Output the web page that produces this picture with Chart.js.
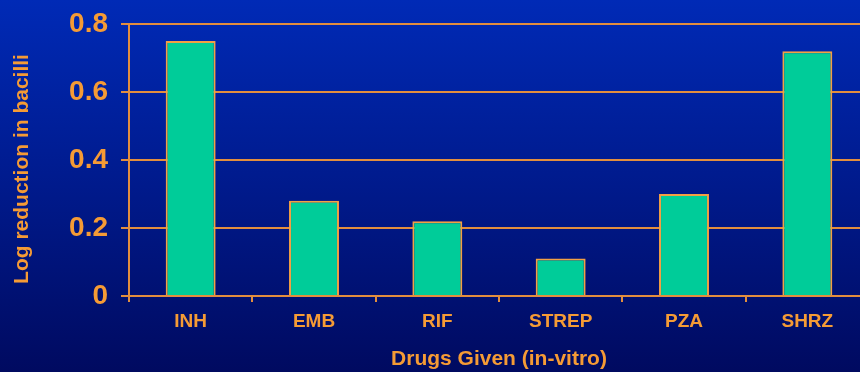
<!DOCTYPE html>
<html>
<head>
<meta charset="utf-8">
<script src="https://cdn.jsdelivr.net/npm/chart.js@4/dist/chart.umd.min.js"></script>
<style>
  html, body { margin: 0; padding: 0; overflow: hidden; width: 860px; height: 372px; }
  body { background: linear-gradient(to bottom, rgb(0,42,182) 0%, rgb(0,26,140) 50%, rgb(0,10,96) 100%); }
  #wrap { position: absolute; left: 0; top: 0; width: 869px; height: 372px; }
</style>
</head>
<body>
<div id="wrap"><canvas id="c" width="869" height="372"></canvas></div>
<script>
// Drugs tested and the log reduction in bacilli for each
const drugs = ['INH', 'EMB', 'RIF', 'STREP', 'PZA', 'SHRZ'];
const logReduction = [0.75, 0.28, 0.22, 0.11, 0.30, 0.72];
const yTicks = [0, 0.2, 0.4, 0.6, 0.8];
const yTitle = 'Log reduction in bacilli';

const ORANGE = '#F59B35';
const LINE = 'rgb(226,142,62)';
const FONT = "'Liberation Sans', Arial, sans-serif";

// Vertical axis title, drawn a little below the axis midpoint
const yTitlePlugin = {
  id: 'yTitle',
  afterDraw(chart) {
    const { ctx, chartArea } = chart;
    ctx.save();
    ctx.translate(22, (chartArea.top + chartArea.bottom) / 2 + 9);
    ctx.rotate(-Math.PI / 2);
    ctx.font = 'bold 21px ' + FONT;
    ctx.fillStyle = ORANGE;
    ctx.textAlign = 'center';
    ctx.textBaseline = 'middle';
    ctx.fillText(yTitle, 0, 0);
    ctx.restore();
  }
};

new Chart(document.getElementById('c'), {
  type: 'bar',
  data: {
    labels: drugs,
    datasets: [{
      data: logReduction,
      backgroundColor: '#00CC99',
      borderColor: '#F2A044',
      borderWidth: 2,
      categoryPercentage: 1,
      barPercentage: 0.405
    }]
  },
  options: {
    responsive: false,
    animation: false,
    layout: { padding: { top: 24, right: 0, bottom: 0, left: 0 } },
    plugins: { legend: { display: false }, tooltip: { enabled: false } },
    scales: {
      x: {
        grid: { drawOnChartArea: false, drawTicks: true, tickLength: 6, color: LINE, lineWidth: 2, offset: true },
        border: { display: true, color: LINE, width: 2 },
        ticks: { color: ORANGE, padding: 8, font: { family: FONT, size: 19, weight: 'bold' } },
        title: {
          display: true, text: 'Drugs Given (in-vitro)', color: ORANGE,
          padding: { top: 0, bottom: 0 },
          font: { family: FONT, size: 21, weight: 'bold' }
        },
        afterFit: s => { s.height = 76; s.paddingLeft = 0; s.paddingRight = 0; }
      },
      y: {
        min: yTicks[0],
        max: yTicks[yTicks.length - 1],
        afterBuildTicks: s => { s.ticks = yTicks.map(v => ({ value: v })); },
        grid: { drawOnChartArea: true, drawTicks: true, tickLength: 8, color: LINE, lineWidth: 2 },
        border: { display: true, color: LINE, width: 2 },
        ticks: { color: ORANGE, padding: 13, font: { family: FONT, size: 28, weight: 'bold' } },
        title: { display: false },
        afterFit: s => { s.width = 129; s.paddingTop = 0; s.paddingBottom = 0; }
      }
    }
  },
  plugins: [yTitlePlugin]
});
</script>
</body>
</html>
